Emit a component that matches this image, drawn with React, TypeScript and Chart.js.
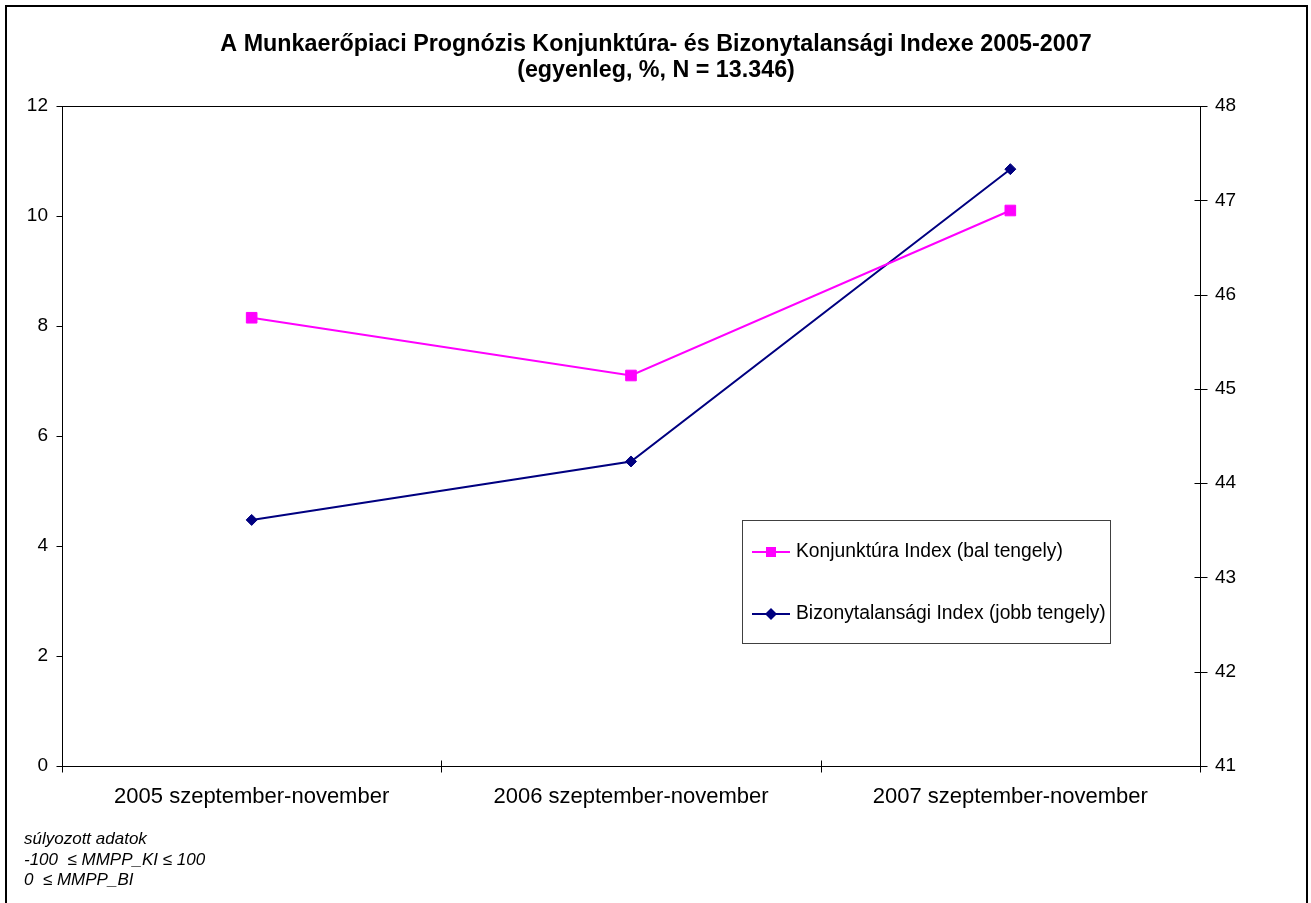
import React, { useEffect, useRef } from "react";
import { Chart, registerables } from "chart.js";

Chart.register(...registerables);

const categories = [
  "2005 szeptember-november",
  "2006 szeptember-november",
  "2007 szeptember-november",
];
const konjunkturaIndex = [8.15, 7.1, 10.1];
const bizonytalansagiIndex = [43.61, 44.23, 47.33];
const seriesLabels = [
  "Konjunktúra Index (bal tengely)",
  "Bizonytalansági Index (jobb tengely)",
];
const titleLines = [
  "A Munkaerőpiaci Prognózis Konjunktúra- és Bizonytalansági Indexe 2005-2007",
  "(egyenleg, %, N = 13.346)",
];
const footnoteLines = ["súlyozott adatok", "-100  ≤ MMPP_KI ≤ 100", "0  ≤ MMPP_BI"];
const leftAxis = { min: 0, max: 12, step: 2 };
const rightAxis = { min: 41, max: 48, step: 1 };

const FONT = '"Liberation Sans", Arial, Helvetica, sans-serif';
const MAGENTA = "#FF00FF";
const NAVY = "#000080";

const W = 1311;
const H = 903;

function line(ctx: CanvasRenderingContext2D, x1: number, y1: number, x2: number, y2: number) {
  ctx.beginPath();
  ctx.moveTo(x1, y1);
  ctx.lineTo(x2, y2);
  ctx.stroke();
}

const decorPlugin = {
  id: "decor",
  beforeDatasetsDraw(chart: any) {
    const ctx: CanvasRenderingContext2D = chart.ctx;
    const { left, right, top, bottom } = chart.chartArea;
    ctx.save();
    ctx.strokeStyle = "#000";
    ctx.lineWidth = 1;
    const L = Math.round(left) + 0.5;
    const R = Math.round(right) + 0.5;
    const T = Math.round(top) + 0.5;
    const B = Math.round(bottom) + 0.5;
    ctx.strokeRect(L, T, R - L, B - T);
    // left axis ticks (outside)
    const yL = chart.scales.y;
    yL.ticks.forEach((t: any) => {
      const py = Math.round(yL.getPixelForValue(t.value)) + 0.5;
      line(ctx, L - 6, py, L, py);
    });
    // right axis ticks (cross)
    const yR = chart.scales.y1;
    yR.ticks.forEach((t: any) => {
      const py = Math.round(yR.getPixelForValue(t.value)) + 0.5;
      line(ctx, R - 6, py, R + 7, py);
    });
    // x axis ticks at category boundaries (cross)
    const xs = chart.scales.x;
    for (let i = 0; i <= categories.length; i++) {
      const px = Math.round(xs.getPixelForValue(i - 0.5)) + 0.5;
      line(ctx, px, B - 6, px, B + 6);
    }
    ctx.restore();
  },
  afterDraw(chart: any) {
    const ctx: CanvasRenderingContext2D = chart.ctx;
    ctx.save();
    // outer border
    ctx.strokeStyle = "#000";
    ctx.lineWidth = 2;
    ctx.strokeRect(6, 6, 1301, 920);

    // title
    ctx.fillStyle = "#000";
    ctx.textAlign = "center";
    ctx.textBaseline = "middle";
    ctx.font = `bold 23.3px ${FONT}`;
    ctx.fillText(titleLines[0], 656, 45);
    ctx.fillText(titleLines[1], 656, 71);

    // legend
    ctx.lineWidth = 1;
    ctx.strokeStyle = "#404040";
    ctx.strokeRect(742.5, 520.5, 368, 123);
    const rows = [552, 614];
    const colors = [MAGENTA, NAVY];
    ctx.font = `19.3px ${FONT}`;
    ctx.textAlign = "left";
    rows.forEach((ry, i) => {
      ctx.strokeStyle = colors[i];
      ctx.fillStyle = colors[i];
      ctx.lineWidth = 2;
      line(ctx, 752, ry, 790, ry);
      if (i === 0) {
        ctx.fillRect(766, ry - 5, 10, 10);
      } else {
        ctx.beginPath();
        ctx.moveTo(771, ry - 6);
        ctx.lineTo(777, ry);
        ctx.lineTo(771, ry + 6);
        ctx.lineTo(765, ry);
        ctx.closePath();
        ctx.fill();
      }
      ctx.fillStyle = "#000";
      ctx.fillText(seriesLabels[i], 796, ry);
    });

    // footnote
    ctx.font = `italic 17px ${FONT}`;
    ctx.fillStyle = "#000";
    const fy = [839, 860, 880];
    footnoteLines.forEach((t, i) => ctx.fillText(t, 24, fy[i]));
    ctx.restore();
  },
};

export default function App() {
  const ref = useRef<HTMLCanvasElement | null>(null);
  useEffect(() => {
    if (!ref.current) return;
    const chart = new Chart(ref.current, {
      type: "line",
      data: {
        labels: categories,
        datasets: [
          {
            label: seriesLabels[0],
            data: konjunkturaIndex,
            yAxisID: "y",
            borderColor: MAGENTA,
            backgroundColor: MAGENTA,
            borderWidth: 2,
            pointStyle: "rect",
            pointRadius: 7.5,
            pointBorderWidth: 1,
            pointBackgroundColor: MAGENTA,
            pointBorderColor: MAGENTA,
            tension: 0,
            fill: false,
          },
          {
            label: seriesLabels[1],
            data: bizonytalansagiIndex,
            yAxisID: "y1",
            borderColor: NAVY,
            backgroundColor: NAVY,
            borderWidth: 2,
            pointStyle: "rectRot",
            pointRadius: 5.5,
            pointBorderWidth: 1,
            pointBackgroundColor: NAVY,
            pointBorderColor: NAVY,
            tension: 0,
            fill: false,
          },
        ],
      },
      options: {
        animation: false,
        responsive: false,
        devicePixelRatio: 1,
        layout: { padding: { top: 106, left: 0, right: 0, bottom: 0 }, autoPadding: false } as any,
        plugins: {
          legend: { display: false },
          title: { display: false },
          tooltip: { enabled: false },
        },
        scales: {
          x: {
            type: "category",
            offset: true,
            grid: { display: false, drawTicks: false },
            border: { display: false },
            ticks: {
              color: "#000",
              font: { family: FONT, size: 22 },
              padding: 18,
              maxRotation: 0,
              minRotation: 0,
              autoSkip: false,
            },
            afterFit: (s: any) => {
              s.height = H - 766;
            },
          },
          y: {
            position: "left",
            min: leftAxis.min,
            max: leftAxis.max,
            grid: { display: false, drawTicks: false },
            border: { display: false },
            ticks: {
              stepSize: leftAxis.step,
              color: "#000",
              font: { family: FONT, size: 19 },
              padding: 14,
            },
            afterFit: (s: any) => {
              s.width = 62;
            },
          },
          y1: {
            position: "right",
            min: rightAxis.min,
            max: rightAxis.max,
            grid: { display: false, drawTicks: false },
            border: { display: false },
            ticks: {
              stepSize: rightAxis.step,
              color: "#000",
              font: { family: FONT, size: 19 },
              padding: 15,
            },
            afterFit: (s: any) => {
              s.width = W - 1200;
            },
          },
        },
      },
      plugins: [decorPlugin],
    });
    return () => chart.destroy();
  }, []);
  return (
    <div style={{ position: "fixed", left: 0, top: 0, width: W, height: H, background: "#fff" }}>
      <canvas ref={ref} width={W} height={H} style={{ display: "block", width: W, height: H }} />
    </div>
  );
}
